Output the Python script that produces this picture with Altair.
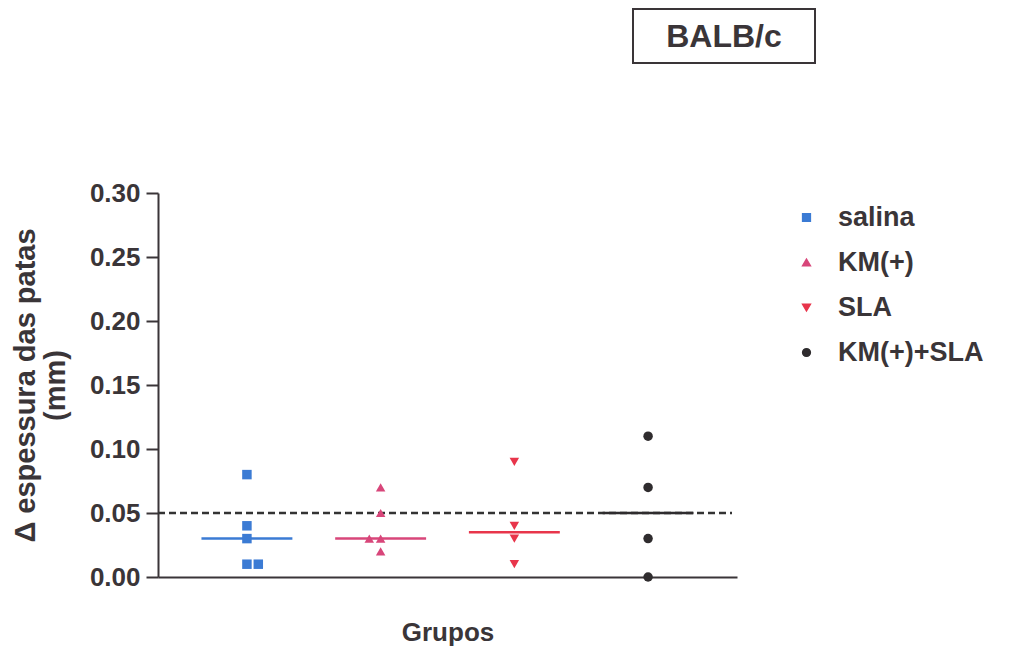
import altair as alt
import pandas as pd

# ---- data ----
categories = ["salina", "KM(+)", "SLA", "KM(+)+SLA"]
salina = [0.08, 0.04, 0.03, 0.01, 0.01]
km = [0.07, 0.05, 0.03, 0.03, 0.02]
sla = [0.09, 0.04, 0.03, 0.01]
km_sla = [0.11, 0.07, 0.03, 0.00]
threshold = [0.05]
y_ticks = [0.00, 0.05, 0.10, 0.15, 0.20, 0.25, 0.30]
panel_title = "BALB/c"
y_title = ["\u0394 espessura das patas", "(mm)"]
x_title = "Grupos"

# ---- styles ----
colors = ["#3b7bd4", "#d8467a", "#e8354b", "#2f2c2e"]
shapes = ["square", "triangle-up", "triangle-down", "circle"]
dup_side = [1, -1, 1, 1]
ink = "#3a3538"
FONT = "Liberation Sans"

rows = []
for gi, (name, vals) in enumerate(zip(categories, [salina, km, sla, km_sla])):
    seen = {}
    for v in vals:
        k = seen.get(v, 0)
        seen[v] = k + 1
        rows.append({"Grupo": name, "pos": gi + 1, "jit": k * dup_side[gi] * 0.085, "valor": v})
df = pd.DataFrame(rows)
thr_df = pd.DataFrame({"limite": threshold})

xscale = alt.Scale(domain=[0.335, 4.665], nice=False, zero=False)
yscale = alt.Scale(domain=[0, 0.30], nice=False, zero=True)
cscale = alt.Scale(domain=categories, range=colors)
sscale = alt.Scale(domain=categories, range=shapes)

x_axis = alt.Axis(title=x_title, labels=False, ticks=False, grid=False,
                  domainColor=ink, domainWidth=2,
                  titleFont=FONT, titleFontSize=26, titleFontWeight="bold",
                  titleColor=ink, titlePadding=42)
y_axis = alt.Axis(title=y_title, values=y_ticks, format=".2f", grid=False,
                  domainColor=ink, domainWidth=2,
                  tickColor=ink, tickWidth=2, tickSize=12,
                  labelFont=FONT, labelFontSize=26, labelFontWeight="bold",
                  labelColor=ink, labelPadding=6,
                  titleFont=FONT, titleFontSize=29, titleFontWeight="bold",
                  titleColor=ink, titleLineHeight=30, titlePadding=19)

legend = alt.Legend(title=None, orient="none", legendX=635, legendY=11,
                    symbolSize=60, labelFont=FONT, labelFontSize=27,
                    labelFontWeight="bold", labelColor=ink,
                    rowPadding=17, labelOffset=18)

points = alt.Chart(df).transform_calculate(
    xj="datum.pos + datum.jit"
).mark_point(filled=True, size=90, opacity=1).encode(
    x=alt.X("xj:Q", scale=xscale, axis=x_axis),
    y=alt.Y("valor:Q", scale=yscale, axis=y_axis),
    color=alt.Color("Grupo:N", scale=cscale, sort=categories, legend=legend),
    shape=alt.Shape("Grupo:N", scale=sscale, sort=categories, legend=legend),
)

medians = alt.Chart(df).transform_aggregate(
    med="median(valor)", groupby=["Grupo", "pos"]
).transform_calculate(
    xa="datum.pos - 0.34", xb="datum.pos + 0.34"
).mark_rule(strokeWidth=2.5).encode(
    x=alt.X("xa:Q", scale=xscale),
    x2="xb:Q",
    y=alt.Y("med:Q", scale=yscale),
    color=alt.Color("Grupo:N", scale=cscale, sort=categories, legend=legend),
)

ref = alt.Chart(thr_df).mark_rule(strokeDash=[7, 4], strokeWidth=2.5, color="#333333").encode(
    x=alt.value(0), x2=alt.value(574),
    y=alt.Y("limite:Q", scale=yscale),
)

box = alt.Chart(thr_df).mark_rect(fill="white", stroke=ink, strokeWidth=2).encode(
    x=alt.value(475), x2=alt.value(657), y=alt.value(-184), y2=alt.value(-130)
)
box_text = alt.Chart(thr_df).mark_text(text=panel_title, font=FONT, fontSize=32,
                                        fontWeight="bold", color=ink, baseline="middle",
                                        align="center").encode(
    x=alt.value(566), y=alt.value(-156)
)

chart = alt.layer(ref, medians, points, box, box_text).properties(
    width=579, height=384,
    autosize=alt.AutoSizeParams(type="none"),
    padding={"left": 150, "top": 185, "right": 270, "bottom": 75},
    background="white",
).configure_view(stroke=None).resolve_scale(color="shared", shape="shared")

chart.save("out.html", embed_options={"renderer": "svg", "actions": False})
